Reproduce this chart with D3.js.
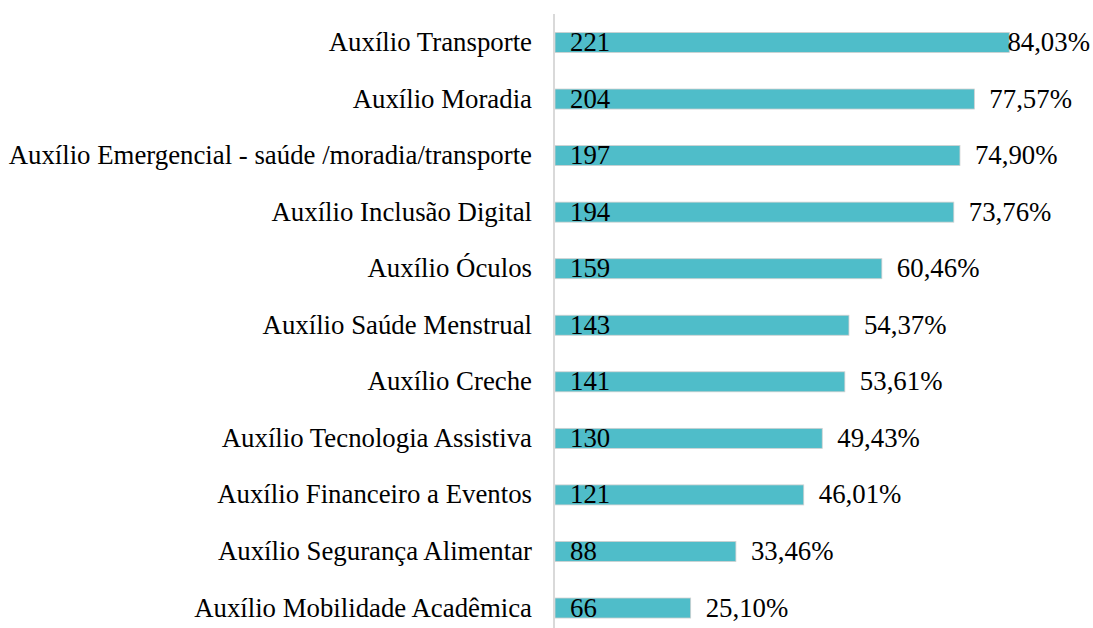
<!DOCTYPE html>
<html>
<head>
<meta charset="utf-8">
<script src="https://cdn.jsdelivr.net/npm/d3@7"></script>
<style>
  body { margin: 0; background: #fff; }
  svg text { font-family: "Liberation Serif", "Times New Roman", serif; fill: #000; }
</style>
</head>
<body>
<div id="chart"></div>
<script>
// Data
const categories = [
    "Auxílio Transporte",
    "Auxílio Moradia",
    "Auxílio Emergencial - saúde /moradia/transporte",
    "Auxílio Inclusão Digital",
    "Auxílio Óculos",
    "Auxílio Saúde Menstrual",
    "Auxílio Creche",
    "Auxílio Tecnologia Assistiva",
    "Auxílio Financeiro a Eventos",
    "Auxílio Segurança Alimentar",
    "Auxílio Mobilidade Acadêmica"
];
const counts = [221, 204, 197, 194, 159, 143, 141, 130, 121, 88, 66];
const percents = ["84,03%", "77,57%", "74,90%", "73,76%", "60,46%", "54,37%", "53,61%", "49,43%", "46,01%", "33,46%", "25,10%"];

const width = 1093;
const height = 628;
const axisX = 555;
const fontSize = "26.8px";

const svg = d3.select("#chart")
    .append("svg")
    .attr("width", width)
    .attr("height", height);

const x = d3.scaleLinear().domain([0, 221]).range([axisX, 1009.3]);
const y = d3.scaleBand()
    .domain(categories)
    .range([14.2, 636.3])
    .paddingInner(0.646)
    .paddingOuter(0.323);

const rows = categories.map((c, i) => ({ cat: c, n: counts[i], pct: percents[i] }));

// bars
svg.selectAll("rect.bar")
    .data(rows)
    .enter()
    .append("rect")
    .attr("class", "bar")
    .attr("x", x(0))
    .attr("y", d => y(d.cat))
    .attr("width", d => x(d.n) - x(0))
    .attr("height", y.bandwidth())
    .attr("fill", "#4fbdc9")
    .attr("stroke", "#d0d0d0")
    .attr("stroke-width", 0.8);

// vertical axis line
svg.append("line")
    .attr("x1", axisX - 1).attr("x2", axisX - 1)
    .attr("y1", 14).attr("y2", height)
    .attr("stroke", "#d9d9d9")
    .attr("stroke-width", 2);

// category labels
svg.selectAll("text.cat")
    .data(rows)
    .enter()
    .append("text")
    .attr("class", "cat")
    .attr("x", axisX - 23)
    .attr("y", d => y(d.cat) + y.bandwidth() / 2)
    .attr("dy", "0.32em")
    .attr("text-anchor", "end")
    .style("font-size", fontSize)
    .text(d => d.cat);

// counts inside bars
svg.selectAll("text.count")
    .data(rows)
    .enter()
    .append("text")
    .attr("class", "count")
    .attr("x", x(0) + 15)
    .attr("y", d => y(d.cat) + y.bandwidth() / 2)
    .attr("dy", "0.32em")
    .style("font-size", fontSize)
    .text(d => d.n);

// percentages after bars (pushed left if they would overflow)
svg.selectAll("text.pct")
    .data(rows)
    .enter()
    .append("text")
    .attr("class", "pct")
    .attr("y", d => y(d.cat) + y.bandwidth() / 2)
    .attr("dy", "0.32em")
    .style("font-size", fontSize)
    .text(d => d.pct)
    .attr("x", function(d) {
        const w = this.getComputedTextLength();
        return Math.min(x(d.n) + 15, width - w - 3);
    });
</script>
</body>
</html>
